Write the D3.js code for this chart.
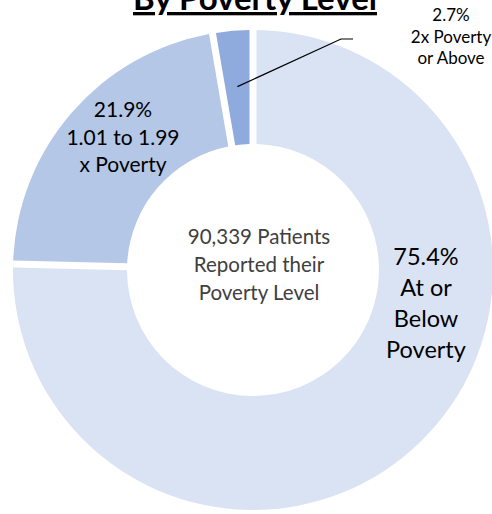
<!DOCTYPE html>
<html>
<head>
<meta charset="utf-8">
<script src="https://cdn.jsdelivr.net/npm/d3@7"></script>
<style>
  html, body { margin: 0; padding: 0; background: #fff; }
  svg { display: block; font-family: Lato, "Open Sans", sans-serif; }
</style>
</head>
<body>
<svg id="chart" width="492" height="514"></svg>
<script>
// Patients by federal poverty level
const categories = ["At or Below Poverty", "1.01 to 1.99 x Poverty", "2x Poverty or Above"];
const shares = [75.4, 21.9, 2.7];
const colors = ["#dae3f3", "#b4c7e7", "#8faadc"];
const totalPatients = "90,339";

const svg = d3.select("#chart");
const cx = 253, cy = 270;
const outerR = 240, innerR = 126;
const gap = 7;

const data = categories.map((c, i) => ({ category: c, value: shares[i], color: colors[i] }));

const pie = d3.pie().sort(null).value(d => d.value);
const arcs = pie(data);

const arc = d3.arc()
  .innerRadius(innerR)
  .outerRadius(outerR)
  .padAngle(gap / outerR)
  .padRadius(outerR);

const g = svg.append("g").attr("transform", `translate(${cx},${cy})`);

g.selectAll("path.slice")
  .data(arcs)
  .join("path")
  .attr("class", "slice")
  .attr("d", arc)
  .attr("fill", d => d.data.color);

// Title (partly above the visible area)
svg.append("text")
  .attr("x", 255)
  .attr("y", 10)
  .attr("text-anchor", "middle")
  .attr("font-weight", "bold")
  .attr("font-size", 33)
  .attr("fill", "#000")
  .attr("text-decoration", "underline")
  .text("By Poverty Level");

// Multi-line label helper
function label(x, y, lines, size, lh, fill) {
  const t = svg.append("text")
    .attr("text-anchor", "middle")
    .attr("font-size", size)
    .attr("fill", fill);
  lines.forEach((s, i) => {
    t.append("tspan").attr("x", x).attr("y", y + i * lh).text(s);
  });
  return t;
}

const fmt = v => v.toFixed(1) + "%";

// Center annotation
label(259, 244, [totalPatients + " Patients", "Reported their", "Poverty Level"], 20.5, 28, "#404040");

// Slice labels
label(426, 265, [fmt(shares[0]), "At or", "Below", "Poverty"], 23.5, 31, "#000");
label(123, 117, [fmt(shares[1]), "1.01 to 1.99", "x Poverty"], 21, 27.5, "#000");
label(451, 21, [fmt(shares[2]), "2x Poverty", "or Above"], 17, 21.5, "#000");

// Leader line for the smallest slice
const small = arcs[2];
const mid = (small.startAngle + small.endAngle) / 2;
const r0 = 184;
const p0 = [cx + r0 * Math.sin(mid), cy - r0 * Math.cos(mid)];
svg.append("polyline")
  .attr("points", [p0, [341, 39], [353, 39]].map(p => p.join(",")).join(" "))
  .attr("fill", "none")
  .attr("stroke", "#000")
  .attr("stroke-width", 1.2);
</script>
</body>
</html>
